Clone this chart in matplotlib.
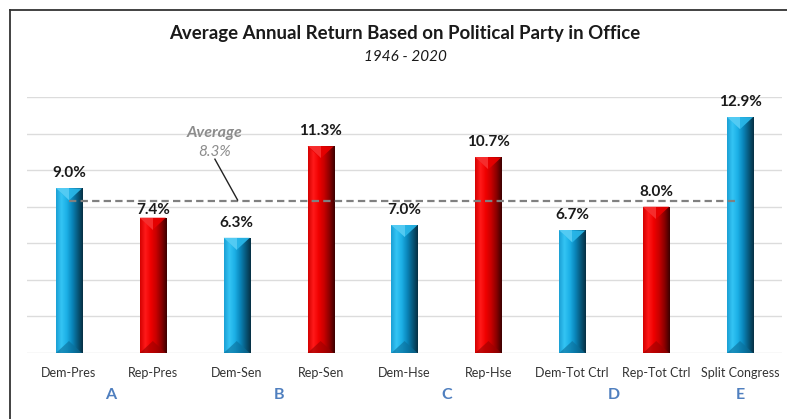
import numpy as np
import matplotlib
matplotlib.use("Agg")
import matplotlib.pyplot as plt
from matplotlib.colors import LinearSegmentedColormap
from matplotlib.patches import Polygon
from matplotlib.lines import Line2D

categories = ["Dem-Pres", "Rep-Pres", "Dem-Sen", "Rep-Sen", "Dem-Hse",
              "Rep-Hse", "Dem-Tot Ctrl", "Rep-Tot Ctrl", "Split Congress"]
values = [9.0, 7.4, 6.3, 11.3, 7.0, 10.7, 6.7, 8.0, 12.9]
parties = ["D", "R", "D", "R", "D", "R", "D", "R", "D"]
group_letters = ["A", "B", "C", "D", "E"]
group_positions = [0.5, 2.5, 4.5, 6.5, 8.0]
average = 8.3

plt.rcParams['font.family'] = ['Lato', 'DejaVu Sans']

W, H = 787, 419
fig = plt.figure(figsize=(W / 100, H / 100), dpi=100)
fig.patch.set_facecolor("white")

ax = fig.add_axes([27 / W, 1 - 353 / H, (782 - 27) / W, (353 - 97) / H])
ax.set_xlim(-0.5, 8.5)
ax.set_ylim(0, 14)
ax.set_facecolor("white")
for s in ax.spines.values():
    s.set_visible(False)
ax.set_yticks(np.arange(0, 15, 2))
ax.set_yticklabels([])
ax.tick_params(axis='y', length=0)
ax.grid(axis='y', color="#dcdcdc", lw=1)
ax.set_axisbelow(True)
ax.set_xticks(range(len(categories)))
ax.set_xticklabels(categories, fontsize=9, color="#333333")
ax.tick_params(axis='x', length=0, pad=10)

blue_cmap = LinearSegmentedColormap.from_list(
    "b", ["#1a9fd4", "#34c4f4", "#1cb0e6", "#0a86bb", "#075a7e", "#062f42"])
red_cmap = LinearSegmentedColormap.from_list(
    "r", ["#d40000", "#ff1a1a", "#f00000", "#c80000", "#8a0000", "#3a0000"])

bw = 0.31
grad = np.linspace(0, 1, 256).reshape(1, -1)
bars = ax.bar(range(len(values)), values, width=bw, color="none", edgecolor="none", zorder=3)
yr = 14 / (353 - 97)  # data per pixel (y)
for i, (b, v, p) in enumerate(zip(bars, values, parties)):
    x0 = b.get_x()
    x1 = x0 + b.get_width()
    cmap = blue_cmap if p == "D" else red_cmap
    im = ax.imshow(grad, cmap=cmap, aspect='auto', extent=[x0, x1, 0, v],
                   zorder=3, interpolation='bilinear')
    im.set_clip_path(b)
    dy = 12 * yr
    top_col = "#6fd8fa" if p == "D" else "#ff4a4a"
    top_col2 = "#2ab8ea" if p == "D" else "#e80000"
    ax.add_patch(Polygon([[x0, v], [x1, v], [(x0 + x1) / 2, v - dy]],
                         closed=True, facecolor=top_col2, edgecolor="none", zorder=4, alpha=0.9))
    ax.add_patch(Polygon([[x0, v], [(x0 + x1) / 2, v], [(x0 + x1) / 2, v - dy]],
                         closed=True, facecolor=top_col, edgecolor="none", zorder=4, alpha=0.6))
    bot_col = "#0a6e99" if p == "D" else "#9a0000"
    ax.add_patch(Polygon([[x0, 0], [x1, 0], [(x0 + x1) / 2, dy]],
                         closed=True, facecolor=bot_col, edgecolor="none", zorder=4, alpha=0.6))
    off = 8 if i == 1 else 15
    ax.text(b.get_x() + bw / 2, v + off * yr, f"{v:.1f}%", ha='center', va='center',
            fontsize=11, fontweight='bold', color="#1a1a1a")

# average line
ax.plot([0, 7.95], [average, average], ls=(0, (3.3, 1.9)), color="#808080", lw=1.6, zorder=5)
ax.text(1.74, 12.05, "Average", ha='center', va='center', fontsize=11.5,
        fontstyle='italic', fontweight='bold', color="#8c8c8c")
ax.text(1.74, 11.0, f"{average:.1f}%", ha='center', va='center', fontsize=11,
        fontstyle='italic', color="#8c8c8c")
ax.plot([1.74, 2.01], [10.6, 8.37], color="#222222", lw=1, zorder=6)

# group letters
for gx, gl in zip(group_positions, group_letters):
    ax.text(gx, -42 * yr, gl, ha='center', va='center', fontsize=11.5,
            fontweight='bold', color="#4f7fbf")

# title
fig.text(405 / W, 1 - 34 / H, "Average Annual Return Based on Political Party in Office",
         ha='center', va='center', fontsize=13.4, fontweight='bold', color="#1a1a1a")
fig.text(405 / W, 1 - 57 / H, "1946 - 2020", ha='center', va='center', fontsize=11,
         fontstyle='italic', color="#1a1a1a")

# frame
fig.add_artist(Line2D([10 / W, 10 / W], [0, 1 - 10 / H], color="#333333", lw=1.3))
fig.add_artist(Line2D([10 / W, 1], [1 - 10 / H, 1 - 10 / H], color="#333333", lw=1.3))

fig.savefig("out.png", dpi=100)
